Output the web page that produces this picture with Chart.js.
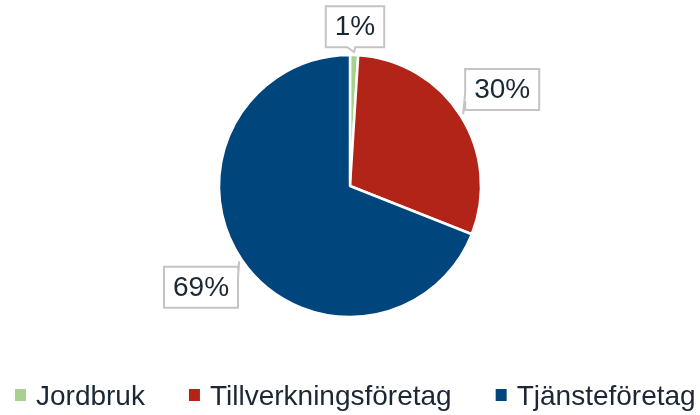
<!DOCTYPE html>
<html>
<head>
<meta charset="utf-8">
<script src="https://cdn.jsdelivr.net/npm/chart.js@4.4.1/dist/chart.umd.min.js"></script>
<style>
  html, body { margin: 0; padding: 0; background: #fff; }
  #wrap { width: 700px; height: 415px; }
</style>
</head>
<body>
<div id="wrap"><canvas id="chart-body"></canvas></div>
<script>
const categories = ['Jordbruk', 'Tillverkningsföretag', 'Tjänsteföretag'];
const shares = [1, 30, 69];
const sliceColors = ['#a9d18e', '#b22318', '#00457c'];

const textColor = '#1b2735';
const fontFamily = '"Liberation Sans", Arial, sans-serif';

// callout boxes with a small pointer towards each slice
const calloutLabels = {
    id: 'calloutLabels',
    afterDatasetsDraw(chart) {
        const ctx = chart.ctx;
        const meta = chart.getDatasetMeta(0);
        ctx.save();
        ctx.font = '28px ' + fontFamily;
        meta.data.forEach((arc, i) => {
            const p = arc.getProps(['x', 'y', 'startAngle', 'endAngle', 'outerRadius'], true);
            const mid = (p.startAngle + p.endAngle) / 2;
            const dx = Math.cos(mid), dy = Math.sin(mid);
            const text = shares[i] + '%';
            const w = ctx.measureText(text).width + 18;
            const h = 41;
            const gap = 7;
            const d = p.outerRadius + gap + Math.abs(dx) * w / 2 + Math.abs(dy) * h / 2;
            const cx = p.x + dx * d, cy = p.y + dy * d;
            const left = cx - w / 2, top = cy - h / 2;
            const tipX = p.x + dx * (p.outerRadius + 3);
            const tipY = p.y + dy * (p.outerRadius + 3);

            ctx.beginPath();
            if (Math.abs(dy) > 0.9) {
                const bx = Math.min(Math.max(tipX, left + 12), left + w - 12);
                ctx.moveTo(left, top);
                ctx.lineTo(left + w, top);
                ctx.lineTo(left + w, top + h);
                ctx.lineTo(bx + 1, top + h);
                ctx.lineTo(tipX, tipY);
                ctx.lineTo(bx - 7, top + h);
                ctx.lineTo(left, top + h);
                ctx.closePath();
            } else {
                const ex = dx > 0 ? left : left + w;
                const by = Math.min(Math.max(tipY, top + 10), top + h - 10);
                ctx.moveTo(left, top);
                ctx.lineTo(left + w, top);
                if (dx < 0) {
                    ctx.lineTo(ex, by - 7);
                    ctx.lineTo(tipX, tipY);
                    ctx.lineTo(ex, by + 1);
                }
                ctx.lineTo(left + w, top + h);
                ctx.lineTo(left, top + h);
                if (dx > 0) {
                    ctx.lineTo(ex, by + 1);
                    ctx.lineTo(tipX, tipY);
                    ctx.lineTo(ex, by - 7);
                }
                ctx.closePath();
            }
            ctx.fillStyle = '#fff';
            ctx.fill();
            ctx.lineWidth = 2;
            ctx.strokeStyle = '#c4c4c4';
            ctx.stroke();

            ctx.fillStyle = textColor;
            ctx.textAlign = 'center';
            ctx.textBaseline = 'middle';
            ctx.fillText(text, cx, cy + 1);
        });
        ctx.restore();
    }
};

// legend row under the pie, tighter than the built-in one
const bottomLegend = {
    id: 'bottomLegend',
    afterDraw(chart) {
        const ctx = chart.ctx;
        const labels = chart.data.labels;
        const colors = chart.data.datasets[0].backgroundColor;
        const box = 11, textGap = 10, itemGap = 44;
        ctx.save();
        ctx.font = '28px ' + fontFamily;
        let x = 15;
        const baseline = 405;
        labels.forEach((l, i) => {
            ctx.fillStyle = colors[i];
            ctx.fillRect(x, 389, box, box + 1);
            ctx.fillStyle = textColor;
            ctx.textAlign = 'left';
            ctx.textBaseline = 'alphabetic';
            ctx.fillText(l, x + box + textGap, baseline);
            x += box + textGap + ctx.measureText(l).width + itemGap;
        });
        ctx.restore();
    }
};

const ctx = document.getElementById('chart-body').getContext('2d');
window.chart = new Chart(ctx, {
    type: 'pie',
    data: {
        labels: categories,
        datasets: [
            {
                data: shares,
                backgroundColor: sliceColors,
                borderColor: '#fff',
                borderWidth: 2.5,
                radius: 131
            }
        ]
    },
    options: {
        responsive: true,
        maintainAspectRatio: false,
        animation: { duration: 0 },
        layout: {
            padding: { top: 55, bottom: 98, left: 0, right: 0 }
        },
        plugins: {
            tooltip: { enabled: false },
            legend: { display: false }
        }
    },
    plugins: [calloutLabels, bottomLegend]
});
</script>
</body>
</html>
